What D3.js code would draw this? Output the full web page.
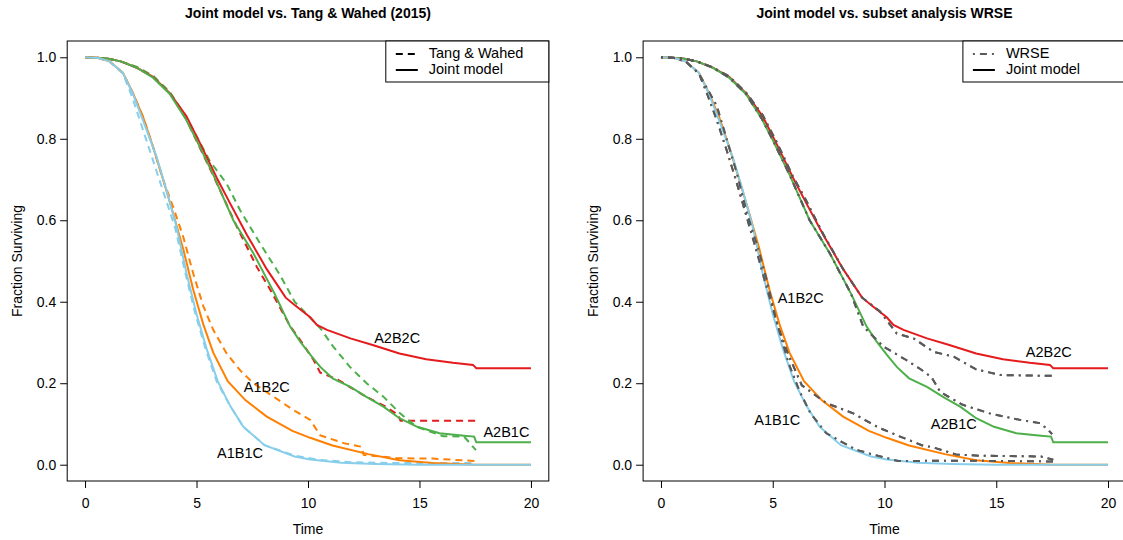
<!DOCTYPE html>
<html>
<head>
<meta charset="utf-8">
<script src="https://cdn.jsdelivr.net/npm/d3@7"></script>
<style>
  body { margin: 0; background: #fff; }
  svg { font-family: "Liberation Sans", Arial, Helvetica, sans-serif; }
</style>
</head>
<body>
<div id="chart"></div>
<script>
// joint model curves (solid), [time, fraction surviving]
var jointA2B2C = [[0,1],[0.5,0.999],[1,0.997],[1.6,0.99],[2.3,0.975],[3.05,0.952],[3.8,0.912],[4.55,0.855],[5.15,0.79],[5.9,0.705],[6.5,0.642],[7.25,0.565],[8.15,0.48],[9.0,0.41],[9.4,0.392],[10.1,0.362],[10.4,0.343],[10.85,0.331],[11.9,0.31],[12.9,0.294],[14.1,0.273],[15.3,0.259],[16.5,0.25],[17.4,0.245],[17.55,0.237],[20,0.237]];
var jointA2B1C = [[0,1],[0.5,0.999],[1,0.997],[1.6,0.99],[2.3,0.975],[3.05,0.95],[3.8,0.91],[4.5,0.85],[5.0,0.797],[5.75,0.712],[6.65,0.6],[7.55,0.519],[8.5,0.42],[9.2,0.339],[9.65,0.302],[10.1,0.27],[10.55,0.24],[11.1,0.212],[11.9,0.191],[12.6,0.167],[13.4,0.142],[14.1,0.114],[14.9,0.093],[15.9,0.077],[17.0,0.071],[17.45,0.069],[17.55,0.055],[20,0.055]];
var jointA1B2C = [[0,1],[0.6,0.998],[1.1,0.99],[1.7,0.962],[2.15,0.912],[2.6,0.854],[3.05,0.78],[3.5,0.7],[3.95,0.617],[4.4,0.53],[4.85,0.43],[5.3,0.345],[5.75,0.275],[6.4,0.205],[7.2,0.158],[8.15,0.118],[9.3,0.083],[10.1,0.066],[11.1,0.047],[12.7,0.026],[14.1,0.011],[15.6,0.004],[17.5,0],[20,0]];
var jointA1B1C = [[0,1],[0.6,0.998],[1.1,0.99],[1.7,0.962],[2.15,0.91],[2.6,0.845],[3.2,0.757],[3.65,0.675],[4.1,0.585],[4.55,0.47],[5.0,0.37],[5.45,0.285],[5.95,0.205],[6.5,0.145],[7.1,0.093],[8.05,0.048],[9.4,0.02],[10.1,0.013],[11.5,0.005],[13,0.002],[15,0],[20,0]];

// Tang & Wahed (2015) curves (dashed)
var twA2B2C = [[0,1],[0.5,0.999],[1,0.997],[1.6,0.99],[2.3,0.975],[3.05,0.952],[3.8,0.912],[4.5,0.852],[5.0,0.795],[5.75,0.71],[6.8,0.585],[7.7,0.486],[8.3,0.43],[9.2,0.34],[9.65,0.306],[10.25,0.257],[10.55,0.226],[11.3,0.21],[11.9,0.19],[12.6,0.167],[13.4,0.145],[14.05,0.122],[14.15,0.108],[17.53,0.108]];
var twA2B1C = [[0,1],[0.5,0.999],[1,0.997],[1.6,0.99],[2.3,0.977],[3.05,0.955],[3.8,0.915],[4.4,0.865],[4.85,0.822],[5.6,0.745],[6.35,0.69],[6.95,0.625],[7.85,0.543],[8.75,0.465],[9.4,0.4],[10.55,0.335],[11.13,0.29],[11.88,0.24],[12.63,0.2],[13.38,0.167],[14.13,0.126],[14.87,0.093],[16.07,0.07],[17.0,0.069],[17.53,0.036]];
var twA1B2C = [[0,1],[0.6,0.998],[1.1,0.99],[1.7,0.962],[2.15,0.912],[2.6,0.854],[3.05,0.78],[3.5,0.7],[3.95,0.633],[4.4,0.56],[4.85,0.47],[5.3,0.39],[5.75,0.331],[6.35,0.273],[6.95,0.232],[7.55,0.2],[8.45,0.167],[9.35,0.134],[10.1,0.11],[10.55,0.072],[11.6,0.053],[12.4,0.044],[12.5,0.024],[14,0.016],[15.6,0.015],[17.5,0.009]];
var twA1B1C = [[0,1],[0.6,0.998],[1.1,0.99],[1.7,0.96],[2.1,0.905],[2.55,0.83],[3.15,0.73],[3.6,0.655],[4.05,0.58],[4.5,0.47],[4.95,0.37],[5.4,0.285],[5.9,0.205],[6.5,0.145],[7.1,0.093],[8.05,0.048],[9.4,0.022],[10.5,0.012],[12,0.006],[14,0.004],[17.5,0.004]];

// subset analysis WRSE curves (dot-dash)
var wrseA2B2C = [[0,1],[0.5,0.999],[1,0.997],[1.6,0.99],[2.3,0.976],[3.05,0.953],[3.8,0.914],[4.55,0.858],[5.15,0.795],[5.9,0.708],[6.5,0.648],[7.25,0.567],[8.15,0.48],[9.0,0.41],[9.8,0.376],[10.55,0.322],[11.3,0.31],[12.2,0.277],[13.1,0.265],[14.1,0.234],[15.2,0.22],[17.55,0.218]];
var wrseA2B1C = [[0,1],[0.5,0.999],[1,0.997],[1.6,0.99],[2.3,0.975],[3.05,0.95],[3.8,0.91],[4.5,0.85],[5.0,0.797],[5.75,0.712],[6.65,0.6],[7.55,0.519],[8.5,0.42],[9.05,0.339],[9.95,0.29],[10.97,0.257],[11.6,0.235],[12.1,0.215],[12.5,0.178],[13.5,0.147],[14.7,0.126],[16.06,0.11],[16.96,0.102],[17.33,0.085],[17.5,0.075]];
var wrseA1B2C = [[0,1],[0.6,0.998],[1.1,0.99],[1.7,0.96],[2.1,0.905],[2.5,0.845],[2.95,0.77],[3.4,0.69],[3.85,0.605],[4.3,0.52],[4.75,0.43],[5.2,0.345],[5.7,0.27],[6.3,0.195],[7.4,0.151],[8.6,0.126],[9.7,0.092],[10.7,0.069],[11.75,0.046],[12.1,0.044],[13.2,0.025],[14.3,0.022],[16.0,0.021],[17.0,0.02],[17.55,0.012]];
var wrseA1B1C = [[0,1],[0.6,0.998],[1.1,0.99],[1.7,0.96],[2.5,0.88],[2.95,0.797],[3.4,0.715],[3.85,0.617],[4.3,0.54],[4.75,0.45],[5.2,0.345],[5.7,0.25],[6.2,0.18],[6.7,0.125],[7.4,0.077],[8.75,0.036],[10.1,0.016],[10.6,0.009],[13.4,0.01],[17.55,0.008]];

var groups = ["A2B2C", "A2B1C", "A1B2C", "A1B1C"];
var colors = ["#E41A1C", "#4DAF4A", "#FF7F00", "#87CEEB"];
var xTicks = [0, 5, 10, 15, 20];
var yTicks = [0.0, 0.2, 0.4, 0.6, 0.8, 1.0];

var joint = [jointA2B2C, jointA2B1C, jointA1B2C, jointA1B1C];
var tangWahed = [twA2B2C, twA2B1C, twA1B2C, twA1B1C];
var wrse = [wrseA2B2C, wrseA2B1C, wrseA1B2C, wrseA1B1C];

// label placement in data units, per panel
var leftLabels = [[14.0, 0.31], [18.9, 0.08], [8.15, 0.19], [6.95, 0.03]];
var rightLabels = [[17.35, 0.277], [13.1, 0.1], [6.25, 0.41], [5.2, 0.11]];

var W = 1123, H = 540;
var svg = d3.select("#chart").append("svg")
    .attr("width", W)
    .attr("height", H);

function panel(x0, x1, title, others, otherStyle, legendName, labels) {
    var top = 41, bottom = 481;
    var x = d3.scaleLinear().domain([-0.8, 20.8]).range([x0, x1]);
    var y = d3.scaleLinear().domain([-0.04, 1.04]).range([bottom, top]);
    var g = svg.append("g");

    var line = d3.line()
        .x(function(d) { return x(d[0]); })
        .y(function(d) { return y(d[1]); });

    // comparison curves
    others.forEach(function(c, i) {
        g.append("path")
            .attr("d", line(c))
            .attr("fill", "none")
            .attr("stroke", otherStyle.color || colors[i])
            .attr("stroke-width", 2)
            .attr("stroke-dasharray", otherStyle.dash);
    });
    // joint model curves
    joint.forEach(function(c, i) {
        g.append("path")
            .attr("d", line(c))
            .attr("fill", "none")
            .attr("stroke", colors[i])
            .attr("stroke-width", 2);
    });
    if (otherStyle.color) {
        // grey curves lie on top in the WRSE plot
        others.forEach(function(c) {
            g.append("path")
                .attr("d", line(c))
                .attr("fill", "none")
                .attr("stroke", otherStyle.color)
                .attr("stroke-width", 2)
                .attr("stroke-dasharray", otherStyle.dash);
        });
    }

    // box
    g.append("rect")
        .attr("x", x0).attr("y", top)
        .attr("width", x1 - x0).attr("height", bottom - top)
        .attr("fill", "none").attr("stroke", "#000").attr("stroke-width", 1);

    var xAxis = g.append("g")
        .attr("transform", "translate(0," + bottom + ")")
        .call(d3.axisBottom(x).tickValues(xTicks).tickSize(7).tickPadding(10).tickSizeOuter(0));
    xAxis.select(".domain").remove();
    xAxis.selectAll("text").attr("font-size", 14).attr("font-family", null);

    var yAxis = g.append("g")
        .attr("transform", "translate(" + x0 + ",0)")
        .call(d3.axisLeft(y).tickValues(yTicks).tickFormat(d3.format(".1f")).tickSize(7).tickPadding(4).tickSizeOuter(0));
    yAxis.select(".domain").remove();
    yAxis.selectAll("text").attr("font-size", 14).attr("font-family", null);

    var cx = (x0 + x1) / 2;
    svg.append("text")
        .attr("x", cx).attr("y", 18)
        .attr("text-anchor", "middle")
        .attr("font-size", 14).attr("font-weight", "bold")
        .text(title);
    svg.append("text")
        .attr("x", cx).attr("y", 534)
        .attr("text-anchor", "middle")
        .attr("font-size", 14)
        .text("Time");
    svg.append("text")
        .attr("transform", "translate(" + (x0 - 45) + "," + ((top + bottom) / 2) + ") rotate(-90)")
        .attr("text-anchor", "middle")
        .attr("font-size", 14)
        .text("Fraction Surviving");

    // curve labels
    labels.forEach(function(p, i) {
        g.append("text")
            .attr("x", x(p[0])).attr("y", y(p[1]))
            .attr("text-anchor", "middle")
            .attr("dy", "0.35em")
            .attr("font-size", 14.5)
            .text(groups[i]);
    });

    // legend
    var lx = x1 - 163;
    var leg = g.append("g");
    leg.append("rect")
        .attr("x", lx).attr("y", top)
        .attr("width", 163).attr("height", 41)
        .attr("fill", "#fff").attr("stroke", "#000").attr("stroke-width", 1);
    leg.append("line")
        .attr("x1", lx + 10).attr("x2", lx + 32)
        .attr("y1", 54).attr("y2", 54)
        .attr("stroke", otherStyle.color || "#000")
        .attr("stroke-width", 2)
        .attr("stroke-dasharray", otherStyle.dash);
    leg.append("line")
        .attr("x1", lx + 10).attr("x2", lx + 32)
        .attr("y1", 70).attr("y2", 70)
        .attr("stroke", "#000").attr("stroke-width", 2);
    leg.append("text")
        .attr("x", lx + 43).attr("y", 53).attr("dy", "0.35em")
        .attr("font-size", 14.5)
        .text(legendName);
    leg.append("text")
        .attr("x", lx + 43).attr("y", 69).attr("dy", "0.35em")
        .attr("font-size", 14.5)
        .text("Joint model");
}

panel(67.2, 548.8, "Joint model vs. Tang & Wahed (2015)", tangWahed,
      { dash: "7,5" }, "Tang & Wahed", leftLabels);
panel(643.1, 1125.9, "Joint model vs. subset analysis WRSE", wrse,
      { dash: "2,5,7,5", color: "#5a5a5a" }, "WRSE", rightLabels);
</script>
</body>
</html>
